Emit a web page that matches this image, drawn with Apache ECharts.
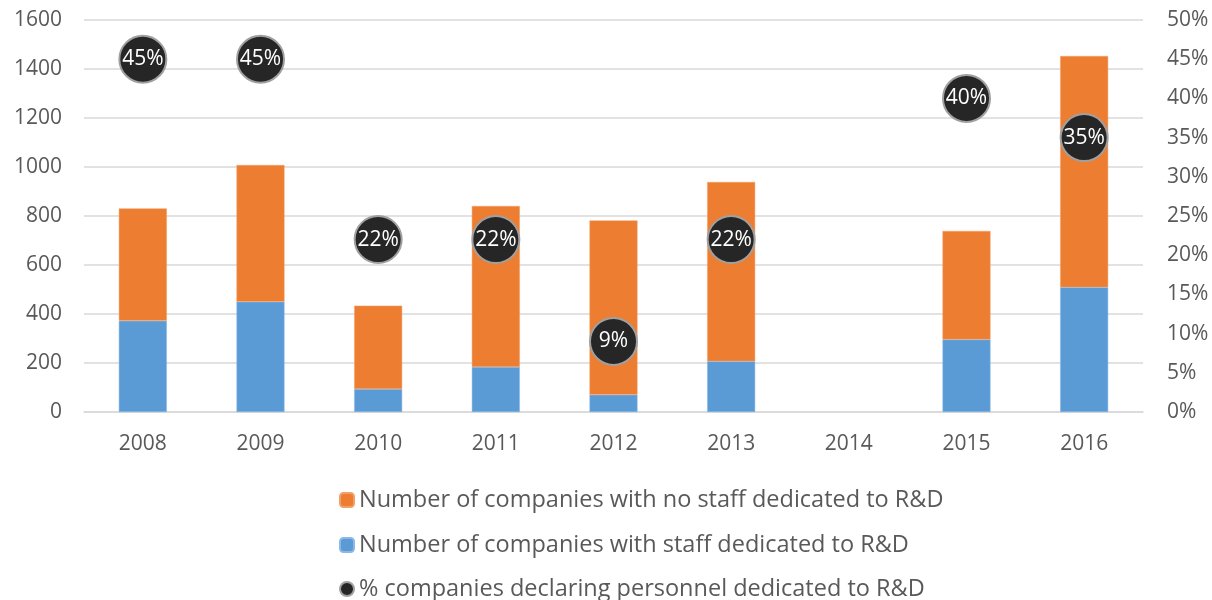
<!DOCTYPE html>
<html>
<head>
<meta charset="utf-8">
<script src="https://cdn.jsdelivr.net/npm/echarts@6/dist/echarts.min.js"></script>
<style>html,body{margin:0;padding:0;background:#fff;}#c{width:1212px;height:600px;}</style>
</head>
<body>
<div id="c"></div>
<script>
const categories = ['2008','2009','2010','2011','2012','2013','2014','2015','2016'];
const withStaff = [372, 450, 94, 184, 70, 207, null, 296, 509];
const noStaff = [459, 558, 340, 657, 712, 732, null, 443, 944];
const pctDeclaring = [45, 45, 22, 22, 9, 22, null, 40, 35];
const leftTicks = { min: 0, max: 1600, interval: 200 };
const rightTicks = { min: 0, max: 50, interval: 5 };
const names = [
  'Number of companies with no staff dedicated to R&D',
  'Number of companies with staff dedicated to R&D',
  '% companies declaring personnel dedicated to R&D'
];

const font = 'Open Sans';
const txt = '#595959';
const legendTops = [488, 533, 577];
const legends = names.map((n, i) => ({
  orient: 'horizontal',
  left: 339,
  top: legendTops[i],
  padding: 0,
  itemWidth: 14,
  itemHeight: 14,
  data: [n],
  textStyle: { fontFamily: font, fontSize: 23.5, lineHeight: 24, color: txt }
}));
const chart = echarts.init(document.getElementById('c'), null, { renderer: 'canvas' });
chart.setOption({
  animation: false,
  backgroundColor: '#fff',
  textStyle: { fontFamily: font },
  grid: { left: 84, right: 69, top: 20, bottom: 188 },
  legend: legends,
  xAxis: {
    type: 'category',
    data: categories,
    axisLine: { lineStyle: { color: '#d9d9d9', width: 1.5 } },
    axisTick: { show: false },
    axisLabel: { color: txt, fontSize: 21, fontFamily: font, margin: 22 }
  },
  yAxis: [
    {
      type: 'value', min: leftTicks.min, max: leftTicks.max, interval: leftTicks.interval,
      axisLine: { show: false }, axisTick: { show: false },
      splitLine: { lineStyle: { color: '#d9d9d9', width: 1.5 } },
      axisLabel: { color: txt, fontSize: 21, fontFamily: font, margin: 22, formatter: v => String(v) }
    },
    {
      type: 'value', min: rightTicks.min, max: rightTicks.max, interval: rightTicks.interval,
      axisLine: { show: false }, axisTick: { show: false },
      splitLine: { show: false },
      axisLabel: { color: txt, fontSize: 21, fontFamily: font, margin: 24, formatter: '{value}%' }
    }
  ],
  series: [
    {
      name: names[1], type: 'bar', stack: 'total', data: withStaff, barWidth: 48,
      itemStyle: { color: '#5b9bd5', borderColor: '#8db8e6', borderWidth: 0.5 }
    },
    {
      name: names[0], type: 'bar', stack: 'total', data: noStaff, barWidth: 48,
      itemStyle: { color: '#ed7d31', borderColor: '#f2a06a', borderWidth: 0.5 }
    },
    {
      name: names[2], type: 'scatter', yAxisIndex: 1, data: pctDeclaring,
      symbol: 'circle', symbolSize: 47, z: 5,
      itemStyle: { color: '#262626', borderColor: '#a0a0a0', borderWidth: 2, opacity: 1 },
      label: {
        show: true, position: 'inside', color: '#fff', fontSize: 21, fontFamily: font,
        formatter: p => p.value + '%'
      }
    }
  ]
});
</script>
</body>
</html>
